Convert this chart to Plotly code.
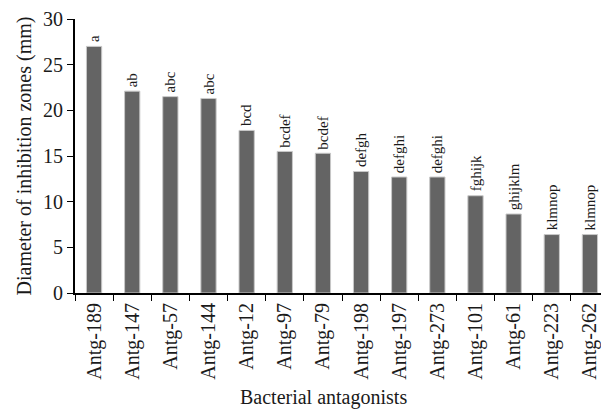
import plotly.graph_objects as go

categories = ["Antg-189", "Antg-147", "Antg-57", "Antg-144", "Antg-12", "Antg-97", "Antg-79",
              "Antg-198", "Antg-197", "Antg-273", "Antg-101", "Antg-61", "Antg-223", "Antg-262"]
values = [27.0, 22.1, 21.5, 21.3, 17.8, 15.5, 15.3, 13.3, 12.7, 12.7, 10.65, 8.65, 6.4, 6.4]
letters = ["a", "ab", "abc", "abc", "bcd", "bcdef", "bcdef", "defgh", "defghi", "defghi",
           "fghijk", "ghijklm", "klmnop", "klmnop"]
y_ticks = [0, 5, 10, 15, 20, 25, 30]

FONT = "Liberation Serif"

fig = go.Figure(go.Bar(
    x=categories, y=values,
    width=0.4,
    marker=dict(color="#646464", line=dict(color="#c8c8c8", width=1)),
))

for c, v, t in zip(categories, values, letters):
    fig.add_annotation(x=c, y=v, text=t, textangle=-90, showarrow=False,
                       yanchor="bottom", xanchor="center", yshift=2,
                       font=dict(family=FONT, size=15, color="#1a1a1a"))

# x-axis title placed as a paper annotation (slightly left of centre, as in the reference)
fig.add_annotation(x=0.466, y=-0.383, xref="paper", yref="paper", text="Bacterial antagonists",
                   showarrow=False, xanchor="center", yanchor="middle",
                   font=dict(family=FONT, size=20, color="#1a1a1a"))

# page body has an 8px default margin; compensate so the plot area lands where the reference has it
fig.update_layout(
    width=601, height=402,
    margin=dict(l=67, r=0, t=11, b=117),
    plot_bgcolor="white", paper_bgcolor="white",
    font=dict(family=FONT, size=19, color="#1a1a1a"),
    showlegend=False,
)
fig.update_xaxes(
    automargin=False,
    showline=True, linecolor="black", linewidth=2,
    ticks="outside", ticklen=6, tickcolor="black", tickwidth=1,
    tickson="boundaries", tickangle=-90,
    tickfont=dict(family=FONT, size=20),
    showgrid=False,
)
fig.update_yaxes(
    automargin=False,
    range=[0, 30], tickvals=y_ticks,
    showline=True, linecolor="black", linewidth=2,
    ticks="outside", ticklen=6, tickcolor="black", tickwidth=1,
    tickfont=dict(family=FONT, size=20),
    title=dict(text="Diameter of inhibition zones (mm)", font=dict(family=FONT, size=20), standoff=6),
    showgrid=False, zeroline=False,
)

fig.write_html("out.html")
